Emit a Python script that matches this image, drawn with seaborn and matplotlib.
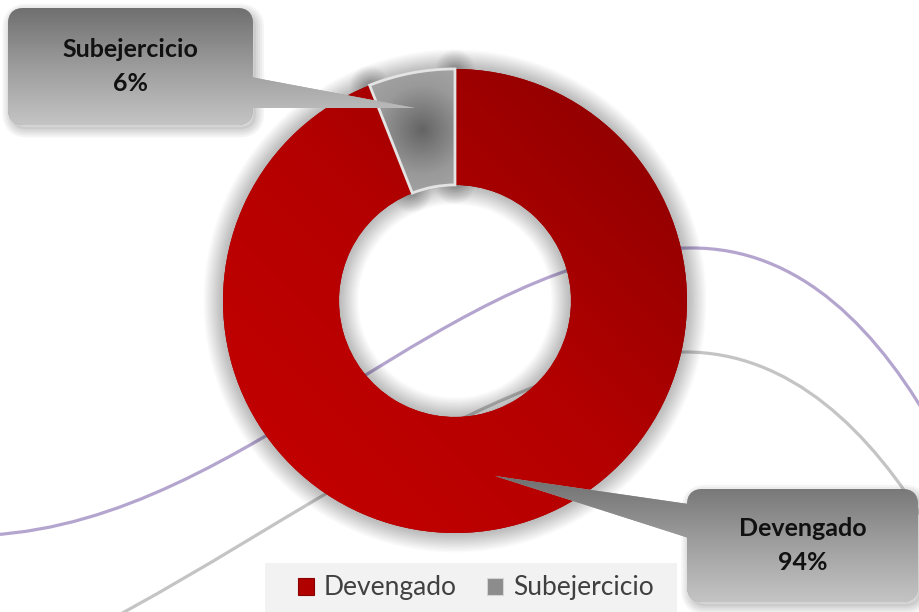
import numpy as np
import matplotlib.pyplot as plt
import matplotlib.patheffects as pe
from matplotlib.patches import FancyBboxPatch, Polygon, PathPatch, Rectangle
from matplotlib.path import Path
from matplotlib.colors import LinearSegmentedColormap
import seaborn as sns

# chart data
categories = ["Devengado", "Subejercicio"]
shares = [94, 6]
slice_colors = ["#b00000", "#8c8c8c"]

W, H = 919, 612

sns.set_theme(style="white")
plt.rcParams["font.family"] = ["Lato", "DejaVu Sans"]

fig = plt.figure(figsize=(W / 100, H / 100), dpi=100)
ax = fig.add_axes([0, 0, 1, 1])


def up(y):
    # layout numbers below are read top-down from the picture
    return H - y


# decorative background curves
def swoosh(pts, color):
    verts = [(x, up(y)) for x, y in pts]
    codes = [Path.MOVETO] + [Path.CURVE4] * (len(verts) - 1)
    ax.add_patch(PathPatch(Path(verts, codes), fill=False, edgecolor=color,
                           lw=2.3, zorder=1))


swoosh([(-10, 535), (250, 520), (450, 249), (690, 248),
        (800, 247), (880, 330), (940, 440)], "#b4a5cf")
swoosh([(100, 625), (300, 520), (500, 360), (685, 352),
        (790, 352), (870, 430), (930, 530)], "#c4c4c4")

# donut
cx, cy, R, ring = 455, up(301), 232, 116
glow = [pe.Stroke(linewidth=lw, foreground="black", alpha=0.018, joinstyle="round")
        for lw in range(28, 1, -2)] + [pe.Normal()]

wedges, _ = ax.pie(shares, colors=slice_colors, startangle=90, counterclock=False,
                   center=(cx, cy), radius=R, explode=[0, 0.08],
                   wedgeprops=dict(width=ring, linewidth=0))
for w in wedges:
    w.set_path_effects(glow)
    w.set_zorder(2)

# red linear gradient
gx, gy = np.meshgrid(np.linspace(0, 1, 300), np.linspace(0, 1, 300))
red_cmap = LinearSegmentedColormap.from_list("red", ["#c60000", "#b40000", "#880000"])
im = ax.imshow((gx + gy) / 2, cmap=red_cmap, extent=(cx - R, cx + R, cy - R, cy + R),
               origin="lower", zorder=3)
im.set_clip_path(wedges[0])

# grey radial gradient
g = wedges[1]
mid = np.deg2rad((g.theta1 + g.theta2) / 2)
gcx = g.center[0] + (R - ring / 2) * np.cos(mid)
gcy = g.center[1] + (R - ring / 2) * np.sin(mid)
rx, ry = np.meshgrid(np.linspace(-1, 1, 200), np.linspace(-1, 1, 200))
grey_cmap = LinearSegmentedColormap.from_list("grey", ["#656565", "#9a9a9a", "#ababab"])
im = ax.imshow(np.clip(np.hypot(rx, ry), 0, 1), cmap=grey_cmap,
               extent=(gcx - 90, gcx + 90, gcy - 90, gcy + 90), origin="lower", zorder=3)
im.set_clip_path(g)
ax.add_patch(PathPatch(g.get_path(), fill=False, edgecolor="#e4e4e4", lw=2, zorder=4))

# callouts
box_cmap = LinearSegmentedColormap.from_list("box", ["#c4c4c4", "#9c9c9c", "#707070"])
drop = [pe.Stroke(offset=(2, -3), linewidth=lw, foreground="black", alpha=0.04,
                  joinstyle="round")
        for lw in (12, 9, 6, 3)] + [pe.Normal()]


def callout(x0, y0, x1, y1, pointer, text):
    box = FancyBboxPatch((x0, up(y1)), x1 - x0, y1 - y0,
                         boxstyle="round,pad=0,rounding_size=16",
                         ec="none", fc="#9c9c9c", zorder=5, path_effects=drop)
    tip = Polygon([(x, up(y)) for x, y in pointer], closed=True,
                  ec="none", fc="#a4a4a4", zorder=5)
    ax.add_patch(tip)
    ax.add_patch(box)
    xs = [x0, x1] + [p[0] for p in pointer]
    ys = [y0, y1] + [p[1] for p in pointer]
    grad = np.linspace(0, 1, 100).reshape(-1, 1)
    for patch in (tip, box):
        gi = ax.imshow(grad, cmap=box_cmap, aspect="auto", origin="lower", zorder=6,
                       extent=(min(xs), max(xs), up(max(ys)), up(min(ys))))
        gi.set_clip_path(patch)
    ax.text((x0 + x1) / 2, up((y0 + y1) / 2), text, ha="center", va="center",
            fontsize=18, fontweight="bold", color="#111111", linespacing=1.55, zorder=7)


callout(8, 8, 253, 125, [(245, 76), (415, 108), (245, 108)],
        f"{categories[1]}\n{shares[1]}%")
callout(687, 489, 918, 602, [(495, 476), (695, 505), (695, 540)],
        f"{categories[0]}\n{shares[0]}%")

# legend
ax.add_patch(Rectangle((265, 0), 412, up(563), fc="#f2f2f2", ec="none", zorder=8))
handles = [Rectangle((0, 0), 1, 1, fc=slice_colors[0], ec="#8a0000", lw=0.8),
           Rectangle((0, 0), 1, 1, fc=slice_colors[1], ec="#d4d4d4", lw=0.8)]
leg = ax.legend(handles, categories, loc="center", bbox_to_anchor=(476 / W, up(588) / H),
                ncol=2, frameon=False, fontsize=19, handlelength=0.6, handleheight=0.6,
                handletextpad=0.38, columnspacing=1.15, borderpad=0, borderaxespad=0)
for t in leg.get_texts():
    t.set_color("#404040")
leg.set_zorder(9)

ax.set_xlim(0, W)
ax.set_ylim(0, H)
ax.set_aspect("equal")
ax.axis("off")
fig.savefig("out.png", dpi=100)
